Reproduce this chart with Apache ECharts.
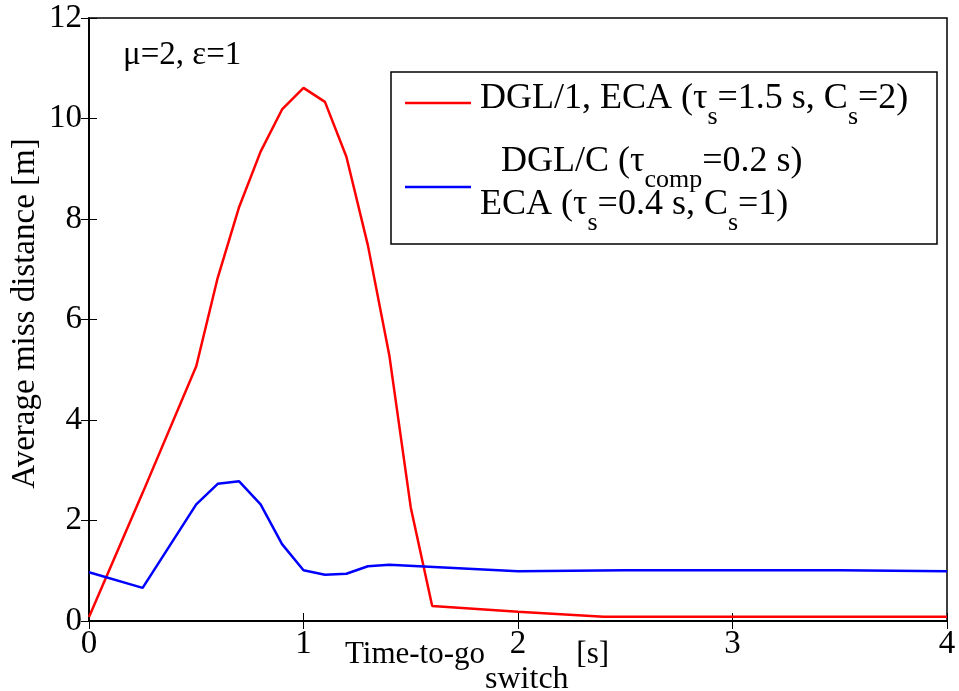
<!DOCTYPE html>
<html><head><meta charset="utf-8">
<script src="https://cdn.jsdelivr.net/npm/echarts@6/dist/echarts.min.js"></script>
<style>html,body{margin:0;padding:0;background:#fff}#c{width:959px;height:691px}</style>
</head><body><div id="c"></div>
<script>
const redX = [0, 0.25, 0.5, 0.6, 0.7, 0.8, 0.9, 1.0, 1.1, 1.2, 1.3, 1.4, 1.5, 1.6, 2.0, 2.4, 4.0];
const redY = [0.08, 2.55, 5.07, 6.83, 8.24, 9.34, 10.18, 10.61, 10.33, 9.24, 7.48, 5.29, 2.26, 0.3, 0.185, 0.085, 0.085];
const blueX = [0, 0.25, 0.5, 0.6, 0.7, 0.8, 0.9, 1.0, 1.1, 1.2, 1.3, 1.4, 2.0, 2.5, 3.0, 3.5, 4.0];
const blueY = [0.97, 0.66, 2.32, 2.73, 2.78, 2.32, 1.53, 1.01, 0.92, 0.94, 1.09, 1.12, 0.99, 1.01, 1.01, 1.01, 0.99];
const xTicks = [0, 1, 2, 3, 4];
const yTicks = [0, 2, 4, 6, 8, 10, 12];

const FF = '"Liberation Serif", "Times New Roman", serif';
const chart = echarts.init(document.getElementById('c'), null, {renderer: 'canvas'});

// legend rich styles
const lm = {fontFamily: FF, fontSize: 36, color: '#000', lineHeight: 40, verticalAlign: 'top'};
const ls = {fontFamily: FF, fontSize: 26, color: '#000', lineHeight: 30, verticalAlign: 'top', padding: [23, 0, 0, 0]};
// x axis name rich styles
const xm = {fontFamily: FF, fontSize: 31, color: '#000', lineHeight: 34, verticalAlign: 'top'};
const xs = {fontFamily: FF, fontSize: 32, color: '#000', lineHeight: 34, verticalAlign: 'top', padding: [25, 0, 0, 0]};
const xe = Object.assign({}, xm, {padding: [0, 82, 0, 0]});

chart.setOption({
  animation: false,
  backgroundColor: '#fff',
  grid: {left: 89, right: 12, top: 18, bottom: 70, containLabel: false, outerBoundsMode: 'none',
         show: true, borderColor: '#000', borderWidth: 1.5, backgroundColor: '#fff'},
  xAxis: [{
    type: 'value', min: xTicks[0], max: xTicks[xTicks.length - 1], interval: 1,
    axisLine: {show: true, onZero: false, lineStyle: {color: '#000', width: 1.5}},
    axisTick: {show: true, inside: true, length: 8, lineStyle: {color: '#000'}},
    splitLine: {show: false},
    axisLabel: {fontFamily: FF, fontSize: 33, color: '#000', margin: 7},
    name: '{m|Time-to-go}{s|switch}{e| [s]}',
    nameLocation: 'middle', nameGap: 18, nameMoveOverlap: false,
    nameTextStyle: {rich: {m: xm, s: xs, e: xe}}
  }, {
    type: 'value', min: 0, max: 4, interval: 1, position: 'top',
    axisLine: {show: true, lineStyle: {color: '#000', width: 1.5}},
    axisTick: {show: true, inside: true, length: 8, lineStyle: {color: '#000'}},
    axisLabel: {show: false}, splitLine: {show: false}
  }],
  yAxis: [{
    type: 'value', min: yTicks[0], max: yTicks[yTicks.length - 1], interval: 2,
    axisLine: {show: true, onZero: false, lineStyle: {color: '#000', width: 1.5}},
    axisTick: {show: true, inside: true, length: 8, lineStyle: {color: '#000'}},
    splitLine: {show: false},
    axisLabel: {fontFamily: FF, fontSize: 33, color: '#000', margin: 7},
    name: 'Average miss distance [m]',
    nameLocation: 'middle', nameGap: 47, nameMoveOverlap: false,
    nameTextStyle: {fontFamily: FF, fontSize: 33, color: '#000', padding: [0, 0, 0, 12]}
  }, {
    type: 'value', min: 0, max: 12, interval: 2, position: 'right',
    axisLine: {show: true, lineStyle: {color: '#000', width: 1.5}},
    axisTick: {show: true, inside: true, length: 8, lineStyle: {color: '#000'}},
    axisLabel: {show: false}, splitLine: {show: false}
  }],
  series: [{
    type: 'line', name: 'DGL/1, ECA', data: redX.map((x, i) => [x, redY[i]]),
    showSymbol: false, lineStyle: {color: '#ff0000', width: 2.5}, itemStyle: {color: '#ff0000'}
  }, {
    type: 'line', name: 'DGL/C, ECA', data: blueX.map((x, i) => [x, blueY[i]]),
    showSymbol: false, lineStyle: {color: '#0000ff', width: 2.5}, itemStyle: {color: '#0000ff'}
  }],
  graphic: [
    {type: 'text', x: 123, y: 37, style: {text: 'μ=2, ε=1', font: '33px ' + FF, lineHeight: 36, fill: '#000'}},
    {type: 'rect', shape: {x: 391, y: 72, width: 546, height: 172}, style: {fill: '#fff', stroke: '#000', lineWidth: 1.5}, z: 10},
    {type: 'line', shape: {x1: 405, y1: 103, x2: 471, y2: 103}, style: {stroke: '#ff0000', lineWidth: 2.5}, z: 11},
    {type: 'line', shape: {x1: 405, y1: 187, x2: 471, y2: 187}, style: {stroke: '#0000ff', lineWidth: 2.5}, z: 11},
    {type: 'text', x: 480, y: 81, z: 11, style: {text: '{m|DGL/1, ECA (τ}{s|s}{m|=1.5 s, C}{s|s}{m|=2)}', rich: {m: lm, s: ls}}},
    {type: 'text', x: 501, y: 144, z: 11, style: {text: '{m|DGL/C (τ}{s|comp}{m|=0.2 s)}', rich: {m: lm, s: ls}}},
    {type: 'text', x: 480, y: 187, z: 11, style: {text: '{m|ECA (τ}{s|s}{m|=0.4 s, C}{s|s}{m|=1)}', rich: {m: lm, s: ls}}}
  ]
});
</script></body></html>
